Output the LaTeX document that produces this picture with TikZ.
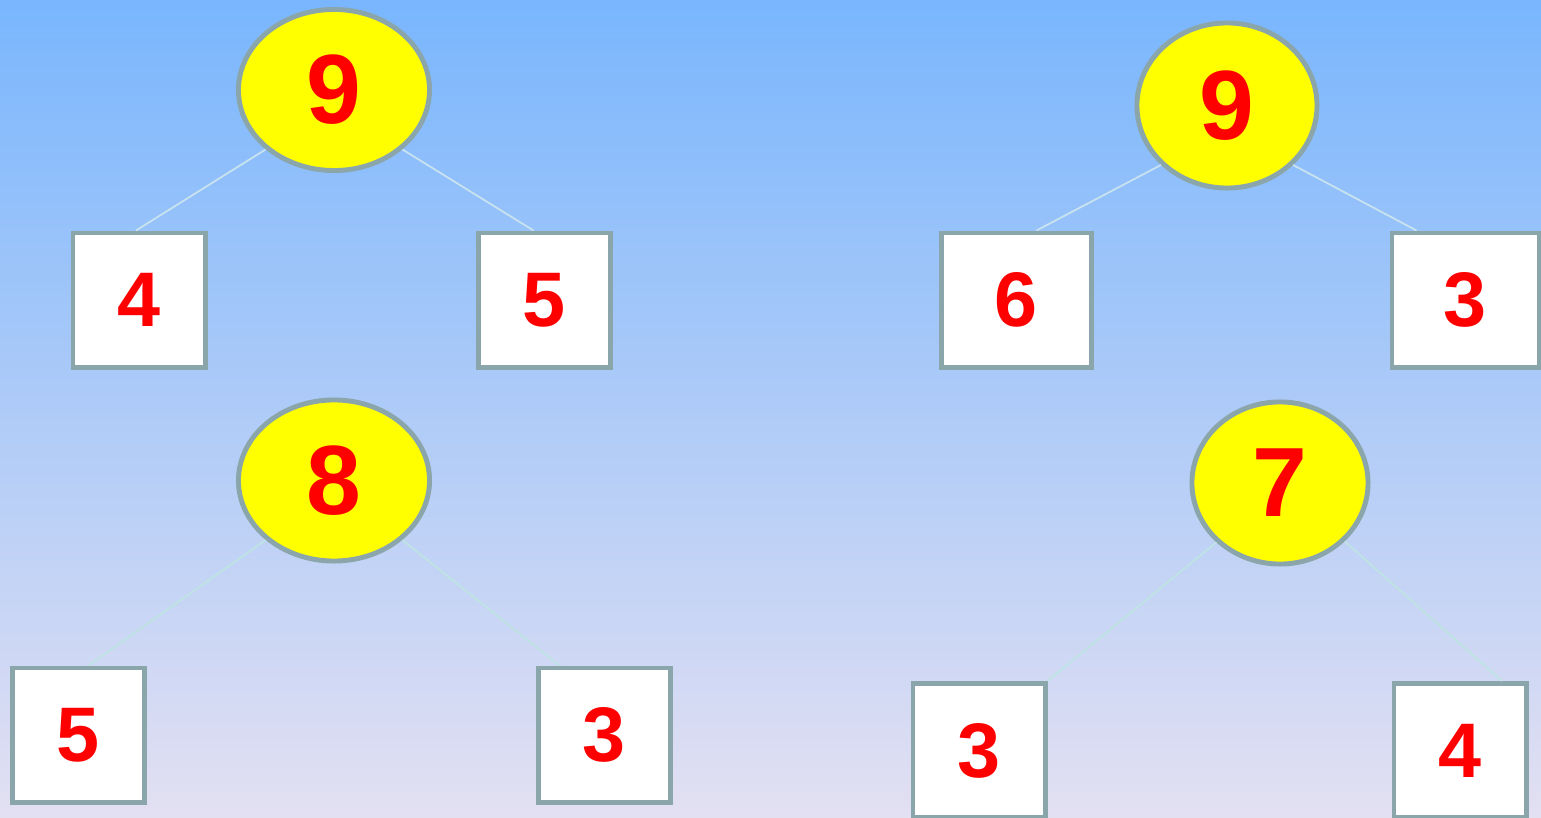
\documentclass[tikz,border=0pt]{standalone}
\usepackage{fontspec}
\setmainfont{Liberation Sans}
\usetikzlibrary{shapes.geometric, calc}
\definecolor{bgtop}{HTML}{79B6FD}
\definecolor{bgbot}{HTML}{E3E0F2}
\definecolor{rim}{HTML}{8BA6AA}
\definecolor{wire}{HTML}{C8E3EF}
\definecolor{wirelow}{HTML}{BEE3E3}
\definecolor{sunny}{RGB}{255,255,0}
\definecolor{digit}{RGB}{255,0,0}

\begin{document}
\begin{tikzpicture}[x=0.01cm, y=-0.01cm,
  sum/.style={ellipse, draw=rim, line width=1.4pt, fill=sunny, inner sep=0pt,
    minimum width=1.91cm, minimum height=1.61cm, text=digit,
    font=\fontsize{28}{28}\selectfont\bfseries},
  part/.style={rectangle, draw=rim, line width=1.4pt, fill=white, inner sep=0pt,
    minimum width=1.32cm, minimum height=1.34cm, text=digit,
    font=\fontsize{22}{22}\selectfont\bfseries},
  link/.style={draw=wire, line width=0.5pt}
]
% background
\shade[top color=bgtop, bottom color=bgbot] (0,0) rectangle (1541,818);
\useasboundingbox (0,0) rectangle (1541,818);

% 9 = 4 + 5
\node[sum] (top1) at (334,90) {9};
\node[part] (a1) at (139,300) {4};
\node[part] (b1) at (544.5,300) {5};
\draw[link] (top1.221) -- ($(a1.north)+(-3,0)$);
\draw[link] (top1.319) -- ($(b1.north)+(-11,0)$);

% 9 = 6 + 3
\node[sum, minimum width=1.80cm, minimum height=1.65cm] (top2) at (1227,105.5) {9};
\node[part, minimum width=1.49cm] (a2) at (1016.5,300) {6};
\node[part, minimum width=1.47cm] (b2) at (1465.5,300) {3};
\draw[link] (top2.222) -- ($(a2.north)+(20,0)$);
\draw[link] (top2.318) -- ($(b2.north)+(-49,0)$);

% 8 = 5 + 3
\node[sum] (top3) at (334,480.5) {8};
\node[part] (a3) at (78.5,735) {5};
\node[part] (b3) at (604.5,735) {3};
\draw[link, draw=wirelow] (top3.221) -- ($(a3.north)+(10,0)$);
\draw[link, draw=wirelow] (top3.319) -- ($(b3.north)+(-45,0)$);

% 7 = 3 + 4
\node[sum, minimum width=1.76cm, minimum height=1.62cm] (top4) at (1280,483) {7};
\node[part] (a4) at (979,750.5) {3};
\node[part] (b4) at (1460,750.5) {4};
\draw[link, draw=wirelow] (top4.223) -- (a4.north east);
\draw[link, draw=wirelow] (top4.318) -- ($(b4.north)+(42,0)$);
\end{tikzpicture}
\end{document}
